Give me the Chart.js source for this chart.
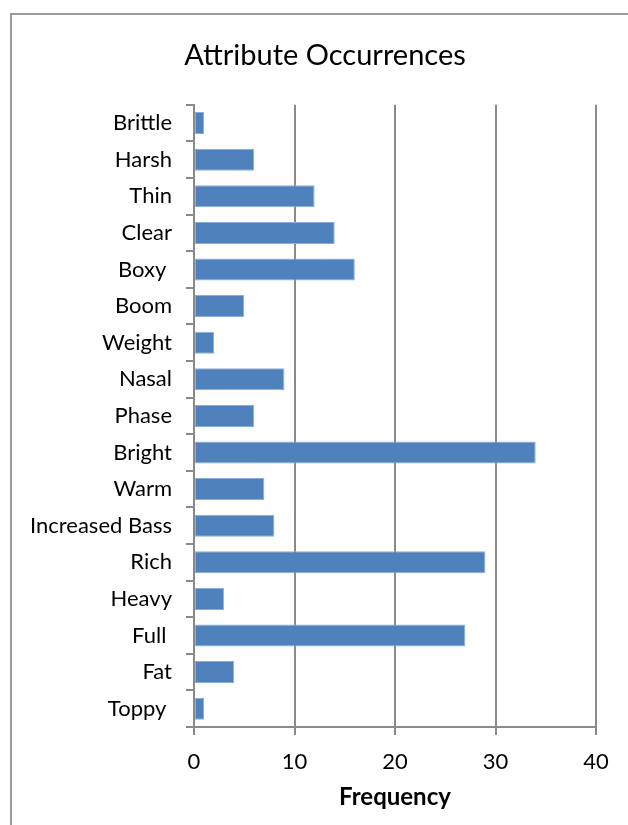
<!DOCTYPE html>
<html>
<head>
<meta charset="utf-8">
<script src="https://cdn.jsdelivr.net/npm/chart.js@4.4.1/dist/chart.umd.min.js"></script>
<style>
  html, body { margin: 0; padding: 0; background: #ffffff; }
  body { width: 628px; height: 825px; overflow: hidden; position: relative; }
  #frame {
    position: absolute; left: 10px; top: 13px; width: 900px; height: 1000px;
    border-left: 2px solid #9a9a9a; border-top: 2px solid #9a9a9a;
    box-sizing: border-box;
  }
  #wrap { position: absolute; left: 0; top: 0; width: 628px; height: 825px; }
</style>
</head>
<body>
<div id="frame"></div>
<div id="wrap"><canvas id="chart" width="628" height="825"></canvas></div>
<script>
// Attribute names (top to bottom) and how often each was mentioned
const attributes = ['Brittle', 'Harsh', 'Thin', 'Clear', 'Boxy ', 'Boom', 'Weight', 'Nasal', 'Phase',
  'Bright', 'Warm', 'Increased Bass', 'Rich', 'Heavy', 'Full ', 'Fat', 'Toppy '];
const frequency = [1, 6, 12, 14, 16, 5, 2, 9, 6, 34, 7, 8, 29, 3, 27, 4, 1];
const frequencyTicks = [0, 10, 20, 30, 40];

const FONT = 'Lato, "Open Sans", sans-serif';
const GRID = '#8a8a8a';

new Chart(document.getElementById('chart'), {
  type: 'bar',
  data: {
    labels: attributes,
    datasets: [{
      label: 'Frequency',
      data: frequency,
      xAxisID: 'x',
      yAxisID: 'y',
      backgroundColor: '#4f81bd',
      borderColor: '#8aaedb',
      borderWidth: 1,
      borderSkipped: false,
      categoryPercentage: 1,
      barPercentage: 0.6
    }]
  },
  options: {
    indexAxis: 'y',
    responsive: false,
    animation: false,
    devicePixelRatio: 1,
    layout: { padding: { left: 22, right: 0, top: 0, bottom: 0 } },
    plugins: {
      legend: { display: false },
      tooltip: { enabled: false },
      title: {
        display: true,
        text: 'Attribute Occurrences',
        color: '#000000',
        font: { family: FONT, size: 29, weight: 'normal', lineHeight: 1.2 },
        padding: { top: 38, bottom: 32 }
      }
    },
    scales: {
      x: {
        min: 0,
        max: 40,
        afterBuildTicks(scale) { scale.ticks = frequencyTicks.map(v => ({ value: v })); },
        afterFit(scale) { scale.height = 98; },
        ticks: {
          color: '#000000',
          font: { family: FONT, size: 22 },
          padding: 14,
          maxRotation: 0
        },
        grid: { color: GRID, lineWidth: 2, tickLength: 8, drawOnChartArea: true },
        border: { display: true, color: GRID, width: 2 },
        title: {
          display: true,
          text: 'Frequency',
          color: '#000000',
          font: { family: FONT, size: 24, weight: 'bold', lineHeight: 1.2 },
          padding: { top: 0, bottom: 13 }
        }
      },
      y: {
        afterFit(scale) { scale.width = 172; },
        ticks: {
          color: '#000000',
          font: { family: FONT, size: 22 },
          padding: 14,
          autoSkip: false
        },
        grid: { color: GRID, lineWidth: 2, tickLength: 8, drawOnChartArea: false, offset: true },
        border: { display: true, color: GRID, width: 2 }
      },
      // empty strip on the right edge so the plot ends short of the frame
      rightGutter: {
        type: 'linear',
        axis: 'y',
        position: 'right',
        display: true,
        afterFit(scale) { scale.width = 32; },
        ticks: { display: false },
        grid: { display: false },
        border: { display: false }
      }
    }
  }
});
</script>
</body>
</html>
